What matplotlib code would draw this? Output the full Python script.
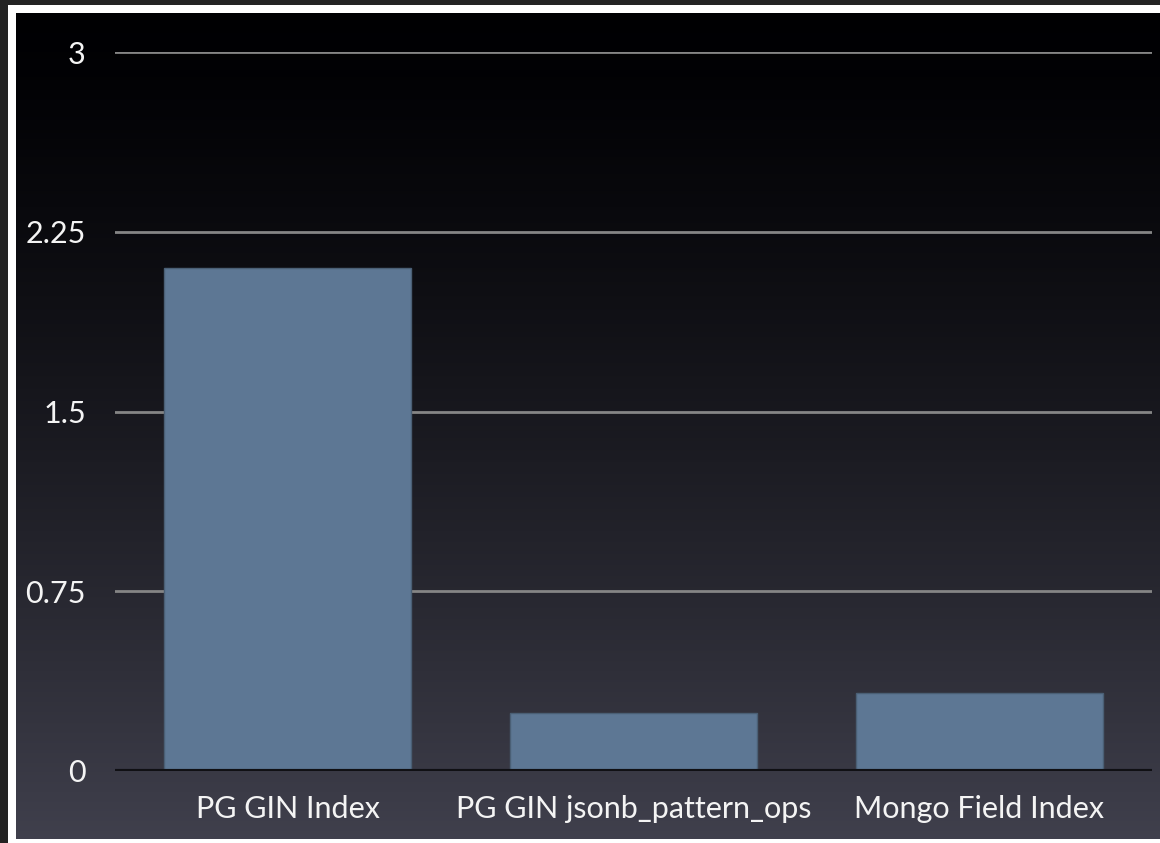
import numpy as np
import matplotlib
matplotlib.use("Agg")
import matplotlib.pyplot as plt
from matplotlib.patches import Rectangle

categories = ["PG GIN Index", "PG GIN jsonb_pattern_ops", "Mongo Field Index"]
values = [2.10, 0.24, 0.325]
yticks = [0, 0.75, 1.5, 2.25, 3]
ytick_labels = ["0", "0.75", "1.5", "2.25", "3"]

W, H = 1160, 843
fig = plt.figure(figsize=(W / 100, H / 100), dpi=100)
fig.patch.set_facecolor("#232323")

# white frame
fig.patches.append(Rectangle((8 / W, 0), 1 - 8 / W, 1 - 5 / H, transform=fig.transFigure,
                             facecolor="white", edgecolor="none", zorder=0))

# gradient background
bg = fig.add_axes([16 / W, 4 / H, 1 - 16 / W, (839 - 13) / H])
bg.set_zorder(1)
t = np.linspace(0, 1, 400) ** 1.35
top = np.array([0.0, 0.0, 0.01])
bot = np.array([0.25, 0.25, 0.30])
grad = top[None, :] * (1 - t[:, None]) + bot[None, :] * t[:, None]
grad = np.repeat(grad[:, None, :], 4, axis=1)
bg.imshow(grad, aspect="auto", extent=[0, 1, 0, 1], origin="upper", interpolation="bilinear")
bg.set_axis_off()

ax = fig.add_axes([115 / W, (H - 771) / H, (1152 - 115) / W, (771 - 52) / H])
ax.set_zorder(2)
ax.patch.set_alpha(0)
x = np.arange(len(categories))
ax.bar(x, values, width=0.715, color="#5d7794", edgecolor="#4a5f75", linewidth=1, zorder=3)
ax.set_xlim(-0.5, len(categories) - 0.5)
ax.set_ylim(0, 3)
ax.set_yticks(yticks)
ax.set_yticklabels(ytick_labels)
ax.set_xticks(x)
ax.set_xticklabels(categories)
for yv in yticks[1:]:
    ax.axhline(yv, color="#858585", linewidth=2, zorder=1)
ax.axhline(0, color="#101014", linewidth=3, zorder=4)
for s in ax.spines.values():
    s.set_visible(False)
ax.tick_params(axis="both", length=0, colors="#f4f4f4", labelsize=22)
ax.tick_params(axis="y", pad=21)
ax.tick_params(axis="x", pad=17)
for lab in ax.get_xticklabels() + ax.get_yticklabels():
    lab.set_fontfamily("Lato")

fig.savefig("out.png", dpi=100, facecolor=fig.get_facecolor())
